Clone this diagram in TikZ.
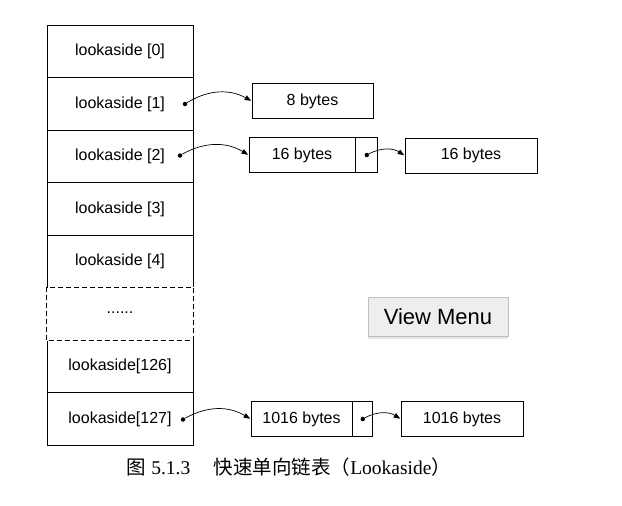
\documentclass[tikz,border=0pt]{standalone}
\usepackage{fontspec}
\setmainfont{Liberation Serif}
\newfontfamily\helv{Liberation Sans}
\newfontfamily\cjk{Noto Sans CJK SC}
\usetikzlibrary{arrows.meta,positioning,shadows}

\tikzset{
  cell/.style={draw, rectangle, minimum width=146pt, minimum height=52.5pt,
    inner sep=0pt, font=\helv\fontsize{16}{18}\selectfont},
  blk/.style={draw, rectangle, minimum height=35pt, inner sep=0pt,
    font=\helv\fontsize{16}{18}\selectfont},
  ptrbox/.style={draw, rectangle, minimum width=22pt, minimum height=35pt, inner sep=0pt},
  dot/.style={circle, fill, inner sep=0pt, minimum size=4.5pt},
  link/.style={-{Triangle[length=6.5pt,width=5pt]}, line width=0.7pt, bend left=30, shorten >=0.5pt}
}

\begin{document}
\begin{tikzpicture}[x=1pt, y=-1pt, line width=0.8pt]
  \useasboundingbox (0, 0) rectangle (622, 506);

  % the lookaside column
  \foreach \i/\y in {0/51.5, 1/104, 2/156.5, 3/209, 4/261.5} {
    \node[cell] (c\i) at (120, \y) {lookaside [\i]};
  }
  \node[cell, draw=none] (cdots) at (120, 314) {\raisebox{0.35ex}{......}};
  \node[cell] (c126) at (120, 366.5) {lookaside[126]};
  \node[cell] (c127) at (120, 419) {lookaside[127]};
  \draw[white, line width=1.6pt] (cdots.north west) rectangle (cdots.south east);
  \draw[line width=1.1pt, dash pattern=on 5pt off 3pt] (cdots.north west) rectangle (cdots.south east);

  % the free blocks
  \node[blk, minimum width=121pt] (b8) at (312.5, 101) {8 bytes};
  \node[blk, minimum width=106pt] (b16a) at (302, 155) {16 bytes};
  \node[ptrbox, right=0pt of b16a] (p16a) {};
  \node[blk, minimum width=132pt] (b16b) at (471, 155.5) {16 bytes};
  \node[blk, minimum width=101pt] (b1016a) at (301.5, 419) {1016 bytes};
  \node[ptrbox, minimum width=20pt, right=0pt of b1016a] (p1016a) {};
  \node[blk, minimum width=122pt] (b1016b) at (462, 419) {1016 bytes};

  % pointers
  \node[dot] (d1) at (185, 104) {};
  \node[dot] (d2) at (180, 155.5) {};
  \node[dot] (d127) at (183, 419.5) {};
  \node[dot] (d16) at (p16a.center) {};
  \node[dot] (d1016) at (p1016a.center) {};
  \draw[link] (d1) to (b8.west);
  \draw[link] (d2) to (b16a.west);
  \draw[link] (d16) to (b16b.west);
  \draw[link] (d127) to (b1016a.west);
  \draw[link] (d1016) to (b1016b.west);

  \node[draw=gray!50, fill=gray!13, drop shadow={opacity=0.2, shadow xshift=0pt, shadow yshift=-2.5pt},
    minimum width=140pt, minimum height=39pt, inner sep=0pt,
    font=\helv\fontsize{22}{24}\selectfont] (menu) at (438, 316.5) {View Menu};

  \node[font=\fontsize{19.5}{22}\selectfont] (caption) at (289, 467)
    {{\cjk 图} 5.1.3\hspace{1.2em}{\cjk 快速单向链表（}Lookaside{\cjk ）}};
\end{tikzpicture}
\end{document}
